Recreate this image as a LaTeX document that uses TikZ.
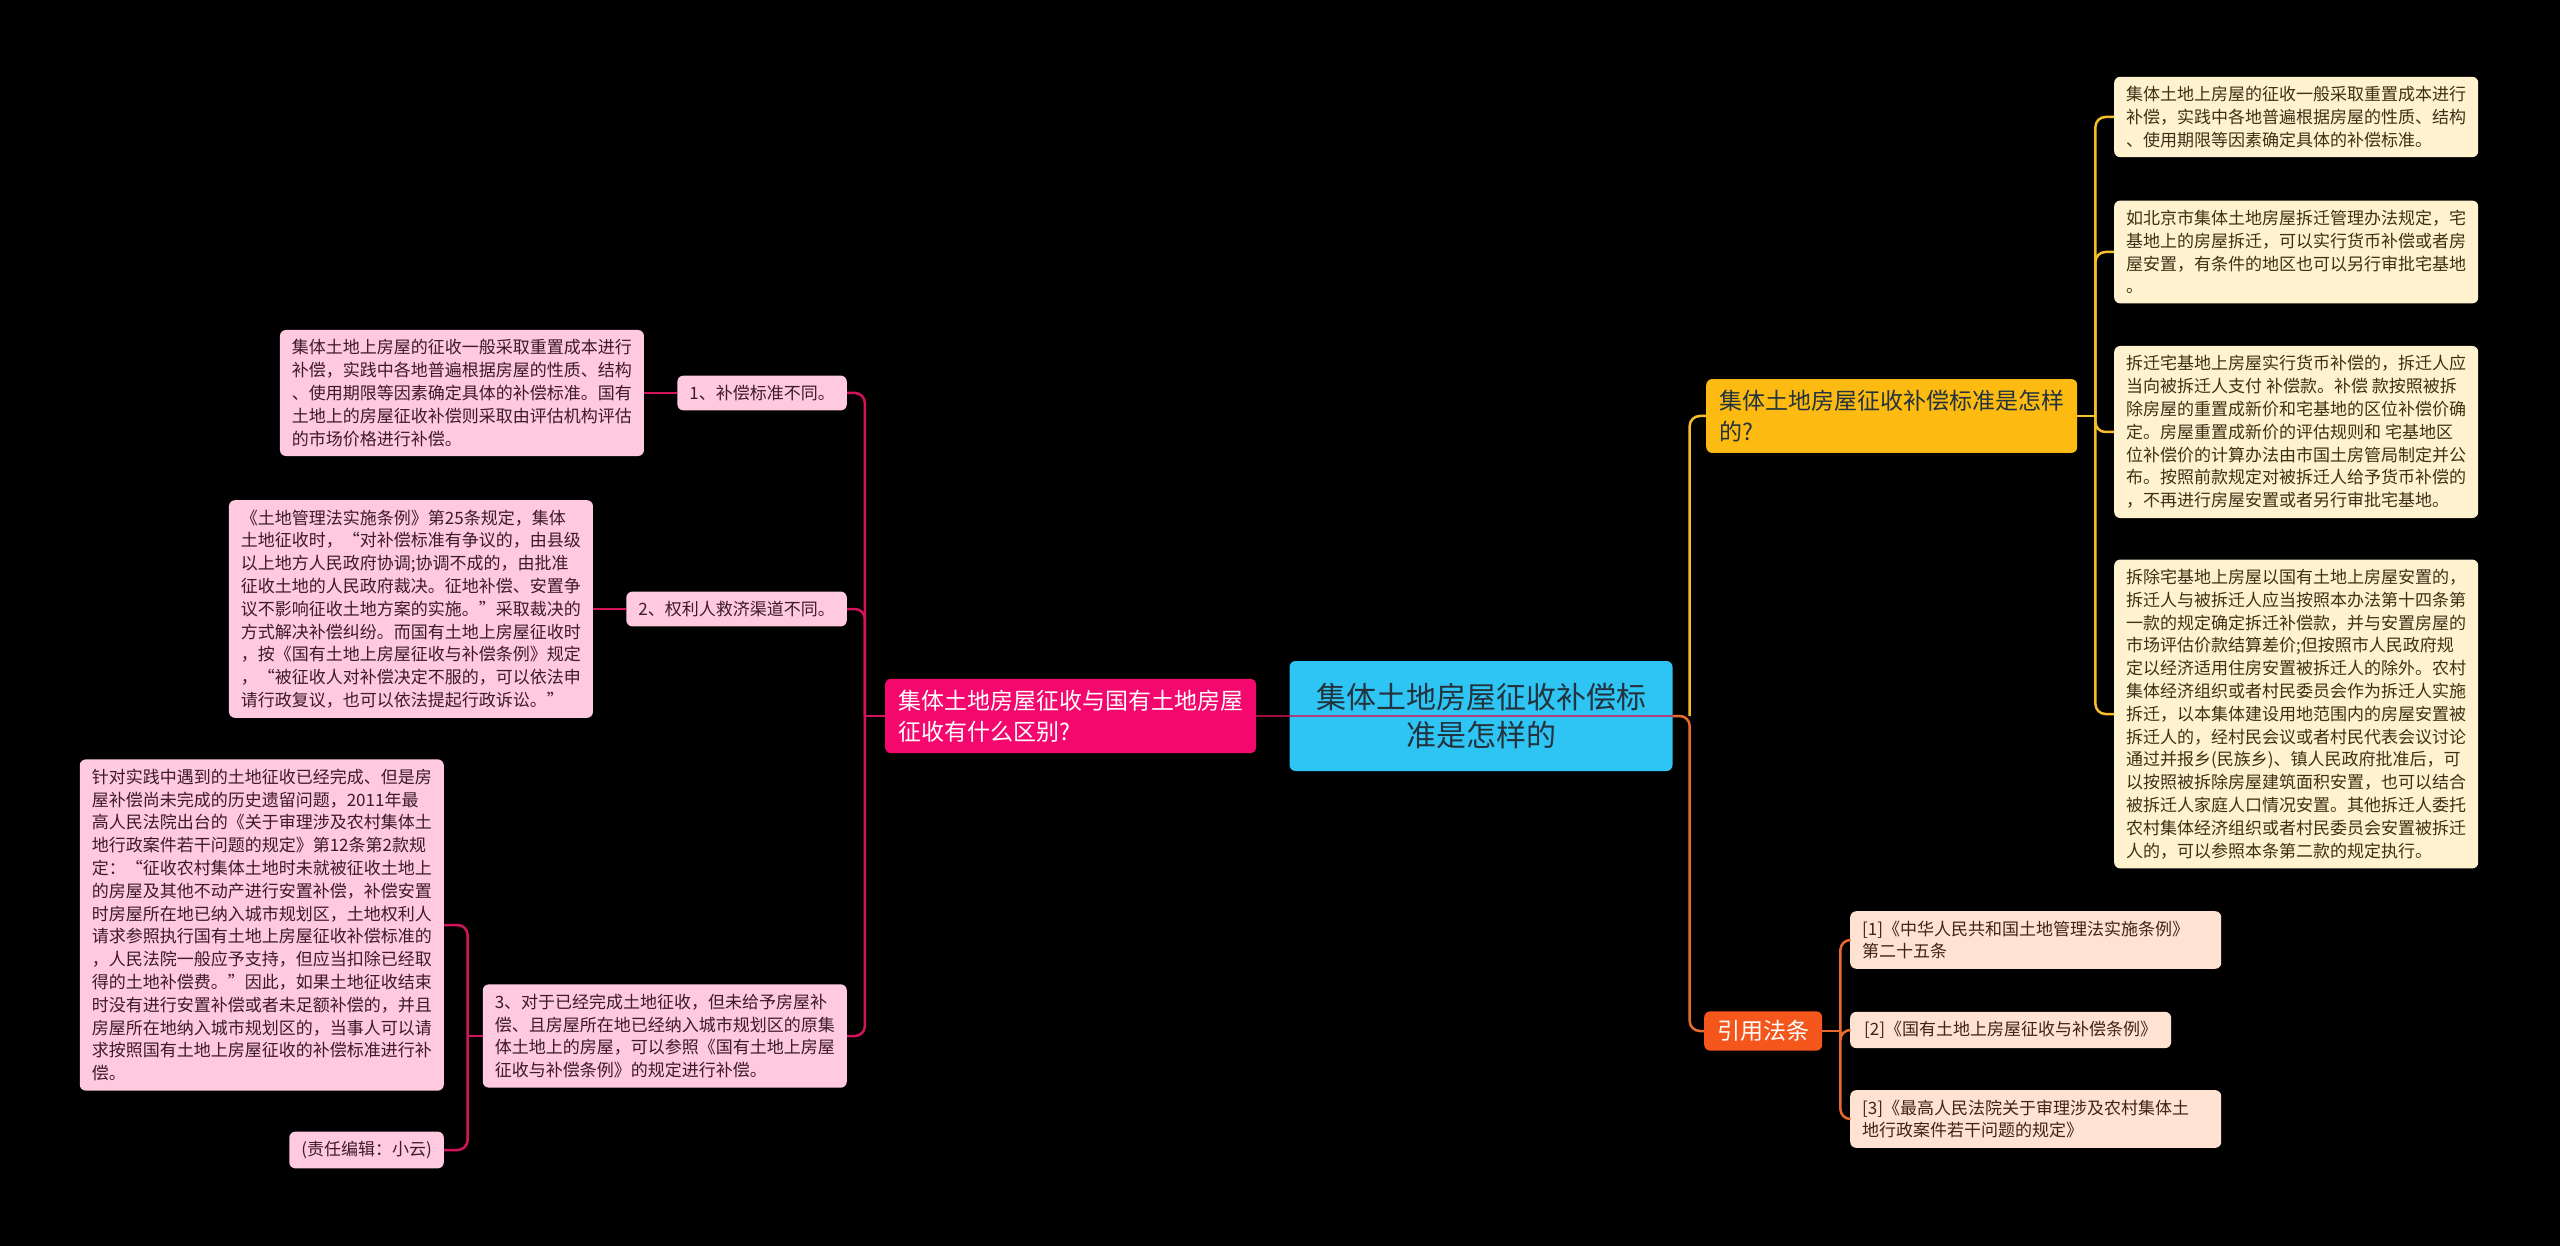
\documentclass[tikz,border=0pt]{standalone}
\usepackage{fontspec}
\setmainfont{Noto Sans CJK SC}
\usetikzlibrary{positioning}

\definecolor{rootblue}{HTML}{2EC5F5}
\definecolor{roottext}{HTML}{22333D}
\definecolor{mainpink}{HTML}{F5086E}
\definecolor{linepink}{HTML}{D4145A}
\definecolor{leafpink}{HTML}{FFC9E0}
\definecolor{textpink}{HTML}{3D1A2B}
\definecolor{maingold}{HTML}{FDBB12}
\definecolor{linegold}{HTML}{F5BE2A}
\definecolor{leafgold}{HTML}{FFF2CF}
\definecolor{textgold}{HTML}{3B3114}
\definecolor{mainorange}{HTML}{F4561C}
\definecolor{lineorange}{HTML}{E86A2C}
\definecolor{leaforange}{HTML}{FFE2D2}
\definecolor{textorange}{HTML}{3E2417}

\begin{document}
\begin{tikzpicture}[x=1pt, y=-1pt,
    topic/.style={rounded corners=6pt, align=left, inner xsep=13pt, inner ysep=11pt,
      font=\fontsize{23}{31}\selectfont},
    leaf/.style={rounded corners=6pt, align=left, inner xsep=12pt, inner ysep=9.5pt,
      font=\fontsize{17}{22.8}\selectfont},
    pinkline/.style={draw=linepink, line width=2.5pt, rounded corners=10pt},
    goldline/.style={draw=linegold, line width=2.5pt, rounded corners=10pt},
    orangeline/.style={draw=lineorange, line width=2.5pt, rounded corners=10pt}]

    \fill[black] (0,0) rectangle (2560,1246);

    % centre
    \node[fill=rootblue, text=roottext, rounded corners=6pt, align=center,
      minimum width=383pt, minimum height=110pt, font=\fontsize{30}{38}\selectfont]
      (root) at (1481,716) {集体土地房屋征收补偿标\\准是怎样的};

    % left branch
    \node[topic, fill=mainpink, text=white, left=33pt of root] (main)
      {集体土地房屋征收与国有土地房屋\\征收有什么区别?};

    \node[leaf, fill=leafpink, text=textpink, anchor=east] (c1) at (847,393) {1、补偿标准不同。};
    \node[leaf, fill=leafpink, text=textpink, anchor=east] (c2) at (847,609) {2、权利人救济渠道不同。};
    \node[leaf, fill=leafpink, text=textpink, anchor=east] (c3) at (847,1036)
      {3、对于已经完成土地征收，但未给予房屋补\\
       偿、且房屋所在地已经纳入城市规划区的原集\\
       体土地上的房屋，可以参照《国有土地上房屋\\
       征收与补偿条例》的规定进行补偿。};

    \node[leaf, fill=leafpink, text=textpink, left=33pt of c1] (d1)
      {集体土地上房屋的征收一般采取重置成本进行\\
       补偿，实践中各地普遍根据房屋的性质、结构\\
       、使用期限等因素确定具体的补偿标准。国有\\
       土地上的房屋征收补偿则采取由评估机构评估\\
       的市场价格进行补偿。};
    \node[leaf, fill=leafpink, text=textpink, left=33pt of c2] (d2)
      {《土地管理法实施条例》第25条规定，集体\\
       土地征收时，“对补偿标准有争议的，由县级\\
       以上地方人民政府协调;协调不成的，由批准\\
       征收土地的人民政府裁决。征地补偿、安置争\\
       议不影响征收土地方案的实施。”采取裁决的\\
       方式解决补偿纠纷。而国有土地上房屋征收时\\
       ，按《国有土地上房屋征收与补偿条例》规定\\
       ，“被征收人对补偿决定不服的，可以依法申\\
       请行政复议，也可以依法提起行政诉讼。”};
    \node[leaf, fill=leafpink, text=textpink, anchor=east] (d3) at (444,925)
      {针对实践中遇到的土地征收已经完成、但是房\\
       屋补偿尚未完成的历史遗留问题，2011年最\\
       高人民法院出台的《关于审理涉及农村集体土\\
       地行政案件若干问题的规定》第12条第2款规\\
       定：“征收农村集体土地时未就被征收土地上\\
       的房屋及其他不动产进行安置补偿，补偿安置\\
       时房屋所在地已纳入城市规划区，土地权利人\\
       请求参照执行国有土地上房屋征收补偿标准的\\
       ，人民法院一般应予支持，但应当扣除已经取\\
       得的土地补偿费。”因此，如果土地征收结束\\
       时没有进行安置补偿或者未足额补偿的，并且\\
       房屋所在地纳入城市规划区的，当事人可以请\\
       求按照国有土地上房屋征收的补偿标准进行补\\
       偿。};
    \node[leaf, fill=leafpink, text=textpink, anchor=east] (d4) at (444,1150) {(责任编辑：小云)};

    % right branches
    \node[topic, fill=maingold, text=roottext, anchor=west] (q1) at (1706,416)
      {集体土地房屋征收补偿标准是怎样\\的?};
    \node[topic, fill=mainorange, text=white, anchor=west, inner ysep=9pt] (q2) at (1704,1031) {引用法条};

    \node[leaf, fill=leafgold, text=textgold, anchor=west] (e1) at (2114,117)
      {集体土地上房屋的征收一般采取重置成本进行\\
       补偿，实践中各地普遍根据房屋的性质、结构\\
       、使用期限等因素确定具体的补偿标准。};
    \node[leaf, fill=leafgold, text=textgold, anchor=west] (e2) at (2114,252)
      {如北京市集体土地房屋拆迁管理办法规定，宅\\
       基地上的房屋拆迁，可以实行货币补偿或者房\\
       屋安置，有条件的地区也可以另行审批宅基地\\
       。};
    \node[leaf, fill=leafgold, text=textgold, anchor=west] (e3) at (2114,432)
      {拆迁宅基地上房屋实行货币补偿的，拆迁人应\\
       当向被拆迁人支付 补偿款。补偿 款按照被拆\\
       除房屋的重置成新价和宅基地的区位补偿价确\\
       定。房屋重置成新价的评估规则和 宅基地区\\
       位补偿价的计算办法由市国土房管局制定并公\\
       布。按照前款规定对被拆迁人给予货币补偿的\\
       ，不再进行房屋安置或者另行审批宅基地。};
    \node[leaf, fill=leafgold, text=textgold, anchor=west] (e4) at (2114,714)
      {拆除宅基地上房屋以国有土地上房屋安置的，\\
       拆迁人与被拆迁人应当按照本办法第十四条第\\
       一款的规定确定拆迁补偿款，并与安置房屋的\\
       市场评估价款结算差价;但按照市人民政府规\\
       定以经济适用住房安置被拆迁人的除外。农村\\
       集体经济组织或者村民委员会作为拆迁人实施\\
       拆迁，以本集体建设用地范围内的房屋安置被\\
       拆迁人的，经村民会议或者村民代表会议讨论\\
       通过并报乡(民族乡)、镇人民政府批准后，可\\
       以按照被拆除房屋建筑面积安置，也可以结合\\
       被拆迁人家庭人口情况安置。其他拆迁人委托\\
       农村集体经济组织或者村民委员会安置被拆迁\\
       人的，可以参照本条第二款的规定执行。};

    \node[leaf, fill=leaforange, text=textorange, anchor=west, text width=347pt] (f1) at (1850,940)
      {[1]《中华人民共和国土地管理法实施条例》\\第二十五条};
    \node[leaf, fill=leaforange, text=textorange, anchor=west, inner xsep=14pt] (f2) at (1850,1030)
      {[2]《国有土地上房屋征收与补偿条例》};
    \node[leaf, fill=leaforange, text=textorange, anchor=west, text width=347pt] (f3) at (1850,1119)
      {[3]《最高人民法院关于审理涉及农村集体土\\地行政案件若干问题的规定》};

    % connectors
    \draw[pinkline, opacity=.75] (root.east) -- (main.east);
    \path (main.west) ++(-20,0) coordinate (mj);
    \draw[pinkline] (main.west) -- (mj);
    \foreach \n in {c1,c2,c3} { \draw[pinkline] (mj) |- (\n.east); }
    \draw[pinkline] (d1.east) -- (c1.west);
    \draw[pinkline] (d2.east) -- (c2.west);
    \path (c3.west) ++(-15,0) coordinate (cj);
    \draw[pinkline] (c3.west) -- (cj);
    \foreach \n in {d3,d4} { \draw[pinkline] (cj) |- (\n.east); }

    \path (root.east) ++(17,0) coordinate (rj);
    \draw[goldline] (rj) |- (q1.west);
    \draw[orangeline] (root.east) -- (rj) |- (q2.west);

    \path (q1.east) ++(18,0) coordinate (gj);
    \draw[goldline] (q1.east) -- (gj);
    \foreach \n in {e1,e2,e3,e4} { \draw[goldline] (gj) |- (\n.west); }

    \path (q2.east) ++(18,0) coordinate (oj);
    \draw[orangeline] (q2.east) -- (oj);
    \foreach \n in {f1,f2,f3} { \draw[orangeline] (oj) |- (\n.west); }
\end{tikzpicture}
\end{document}
